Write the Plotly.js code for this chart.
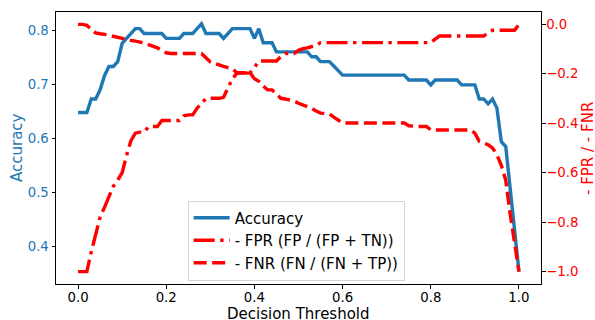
<!DOCTYPE html>
<html>
<head>
<meta charset="utf-8">
<script src="https://cdn.plot.ly/plotly-3.0.1.min.js"></script>
<style>html,body{margin:0;padding:0;background:#fff;}#chart{width:595px;height:320px;}</style>
</head>
<body>
<div id="chart"></div>
<script>
const thresholds = [0.00,0.01,0.02,0.03,0.04,0.05,0.06,0.07,0.08,0.09,
0.10,0.11,0.12,0.13,0.14,0.15,0.16,0.17,0.18,0.19,
0.20,0.21,0.22,0.23,0.24,0.25,0.26,0.27,0.28,0.29,
0.30,0.31,0.32,0.33,0.34,0.35,0.36,0.37,0.38,0.39,
0.40,0.41,0.42,0.43,0.44,0.45,0.46,0.47,0.48,0.49,
0.50,0.51,0.52,0.53,0.54,0.55,0.56,0.57,0.58,0.59,
0.60,0.61,0.62,0.63,0.64,0.65,0.66,0.67,0.68,0.69,
0.70,0.71,0.72,0.73,0.74,0.75,0.76,0.77,0.78,0.79,
0.80,0.81,0.82,0.83,0.84,0.85,0.86,0.87,0.88,0.89,
0.90,0.91,0.92,0.93,0.94,0.95,0.96,0.97,0.98,0.99,1.00];

const accuracy = [0.648,0.648,0.648,0.673,0.673,0.690,0.716,0.733,0.733,0.742,
0.776,0.785,0.794,0.803,0.803,0.794,0.794,0.794,0.794,0.794,
0.785,0.785,0.785,0.785,0.794,0.794,0.794,0.803,0.812,0.794,
0.794,0.794,0.794,0.785,0.794,0.803,0.803,0.803,0.803,0.803,
0.785,0.803,0.777,0.777,0.777,0.760,0.760,0.760,0.760,0.760,
0.760,0.760,0.760,0.751,0.751,0.742,0.742,0.742,0.734,0.725,
0.717,0.717,0.717,0.717,0.717,0.717,0.717,0.717,0.717,0.717,
0.717,0.717,0.717,0.717,0.717,0.708,0.708,0.708,0.708,0.708,
0.699,0.708,0.708,0.708,0.708,0.708,0.708,0.699,0.699,0.699,
0.699,0.673,0.673,0.664,0.673,0.656,0.594,0.585,0.511,0.428,0.354];

const negFPR = [-1.0,-1.0,-1.0,-0.92,-0.85,-0.78,-0.74,-0.70,-0.655,-0.63,
-0.60,-0.53,-0.47,-0.44,-0.436,-0.436,-0.413,-0.413,-0.413,-0.389,
-0.389,-0.389,-0.389,-0.389,-0.37,-0.366,-0.366,-0.339,-0.32,-0.30,
-0.299,-0.299,-0.299,-0.295,-0.26,-0.22,-0.198,-0.198,-0.198,-0.196,
-0.175,-0.148,-0.148,-0.148,-0.148,-0.148,-0.13,-0.118,-0.118,-0.118,
-0.105,-0.098,-0.095,-0.091,-0.085,-0.074,-0.074,-0.074,-0.074,-0.074,
-0.074,-0.074,-0.074,-0.074,-0.074,-0.074,-0.074,-0.074,-0.074,-0.074,
-0.074,-0.074,-0.074,-0.074,-0.074,-0.074,-0.074,-0.074,-0.074,-0.074,
-0.074,-0.06,-0.047,-0.047,-0.047,-0.047,-0.047,-0.047,-0.047,-0.047,
-0.047,-0.047,-0.047,-0.035,-0.024,-0.024,-0.024,-0.024,-0.024,-0.024,0.0];

const negFNR = [0.0,0.0,-0.004,-0.02,-0.035,-0.038,-0.04,-0.043,-0.048,-0.053,
-0.058,-0.062,-0.065,-0.068,-0.071,-0.075,-0.082,-0.088,-0.095,-0.105,
-0.115,-0.118,-0.118,-0.118,-0.118,-0.118,-0.118,-0.118,-0.118,-0.135,
-0.152,-0.158,-0.165,-0.17,-0.175,-0.18,-0.195,-0.195,-0.195,-0.195,
-0.22,-0.23,-0.25,-0.265,-0.265,-0.28,-0.299,-0.302,-0.305,-0.31,
-0.319,-0.325,-0.332,-0.34,-0.35,-0.359,-0.36,-0.362,-0.375,-0.387,
-0.399,-0.399,-0.399,-0.399,-0.399,-0.399,-0.399,-0.399,-0.399,-0.399,
-0.399,-0.399,-0.399,-0.399,-0.399,-0.41,-0.413,-0.413,-0.413,-0.413,
-0.427,-0.427,-0.427,-0.427,-0.427,-0.427,-0.427,-0.427,-0.427,-0.427,
-0.44,-0.473,-0.48,-0.487,-0.50,-0.527,-0.57,-0.63,-0.767,-0.89,-1.0];

const xTicks = [0, 0.2, 0.4, 0.6, 0.8, 1.0];
const yTicks = [0.4, 0.5, 0.6, 0.7, 0.8];
const y2Ticks = [-1.0, -0.8, -0.6, -0.4, -0.2, 0.0];

const BLUE = '#1f77b4', RED = '#ff0000';

const traces = [
  {x: thresholds, y: accuracy, type: 'scatter', mode: 'lines', name: 'Accuracy',
   line: {color: BLUE, width: 3.4}, yaxis: 'y'},
  {x: thresholds, y: negFPR, type: 'scatter', mode: 'lines', name: '- FPR (FP / (FP + TN))',
   line: {color: RED, width: 3.4, dash: '21px,5.5px,3.4px,5.5px'}, yaxis: 'y2'},
  {x: thresholds, y: negFNR, type: 'scatter', mode: 'lines', name: '- FNR (FN / (FN + TP))',
   line: {color: RED, width: 3.4, dash: '13px,5.5px'}, yaxis: 'y2'}
];

const layout = {
  width: 595, height: 320,
  margin: {l: 56, r: 54, t: 12, b: 36, pad: 0},
  paper_bgcolor: '#ffffff', plot_bgcolor: '#ffffff',
  font: {family: 'DejaVu Sans', size: 13.3, color: '#000000'},
  showlegend: true,
  xaxis: {
    range: [-0.05, 1.05], tickvals: xTicks, tickformat: '.1f',
    ticks: 'outside', ticklen: 3.5, tickwidth: 1, tickcolor: '#000',
    ticklabelstandoff: -2,
    showline: true, linecolor: '#000', linewidth: 1, mirror: true,
    showgrid: false, zeroline: false
  },
  yaxis: {
    range: [0.3307, 0.8338], tickvals: yTicks, tickformat: '.1f',
    tickfont: {color: BLUE},
    ticks: 'outside', ticklen: 3.5, tickwidth: 1, tickcolor: '#000',
    showline: true, linecolor: '#000', linewidth: 1, mirror: true,
    showgrid: false, zeroline: false
  },
  yaxis2: {
    overlaying: 'y', side: 'right',
    range: [-1.05, 0.05], tickvals: y2Ticks, tickformat: '.1f',
    tickfont: {color: RED},
    ticks: 'outside', ticklen: 3.5, tickwidth: 1, tickcolor: '#000',
    ticklabelstandoff: -2,
    showline: false, showgrid: false, zeroline: false
  },
  legend: {
    x: 0.2715, y: 0.0128, xanchor: 'left', yanchor: 'bottom',
    bgcolor: 'rgba(255,255,255,0.8)', bordercolor: '#d4d4d4', borderwidth: 1,
    itemwidth: 36,
    font: {size: 15, color: '#000'}
  },
  annotations: [
    {text: 'Decision Threshold', xref: 'paper', yref: 'paper', x: 0.499, y: -0.1103,
     xanchor: 'center', yanchor: 'middle', showarrow: false,
     font: {size: 15, color: '#000'}},
    {text: 'Accuracy', xref: 'paper', yref: 'paper', x: -0.0804, y: 0.5,
     xanchor: 'center', yanchor: 'middle', showarrow: false, textangle: -90,
     font: {size: 15, color: BLUE}},
    {text: '- FPR / - FNR', xref: 'paper', yref: 'paper', x: 1.0969, y: 0.5,
     xanchor: 'center', yanchor: 'middle', showarrow: false, textangle: -90,
     font: {size: 15, color: RED}}
  ]
};

Plotly.newPlot('chart', traces, layout, {displayModeBar: false, staticPlot: true});
</script>
</body>
</html>
